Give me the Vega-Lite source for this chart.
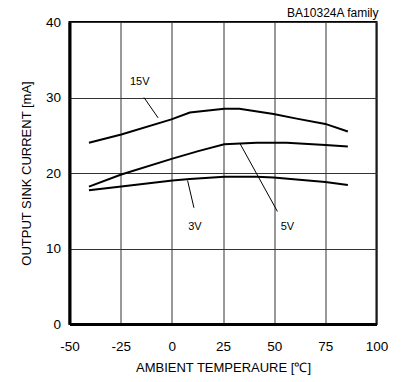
{
  "$schema": "https://vega.github.io/schema/vega-lite/v6.json",
  "width": 307,
  "height": 302,
  "autosize": "none",
  "padding": {"left": 69.5, "top": 22, "right": 25.5, "bottom": 58},
  "background": "white",
  "config": {
    "font": "Liberation Sans",
    "view": {"stroke": "black", "strokeWidth": 2}
  },
  "title": {
    "text": "BA10324A  family",
    "anchor": "end",
    "frame": "group",
    "fontSize": 12,
    "fontWeight": "normal",
    "font": "Liberation Sans",
    "color": "black",
    "offset": 5,
    "dy": 10,
    "dx": 2
  },
  "datasets": {
    "curves": [
      {"s": "15V", "t": -40.5, "i": 24.0},
      {"s": "15V", "t": -24.7, "i": 25.1},
      {"s": "15V", "t": -0.2, "i": 27.1},
      {"s": "15V", "t": 8.8, "i": 28.0},
      {"s": "15V", "t": 25.6, "i": 28.5},
      {"s": "15V", "t": 33, "i": 28.5},
      {"s": "15V", "t": 49.7, "i": 27.8},
      {"s": "15V", "t": 61, "i": 27.2},
      {"s": "15V", "t": 75, "i": 26.5},
      {"s": "15V", "t": 86, "i": 25.5},
      {"s": "5V", "t": -40.5, "i": 18.2},
      {"s": "5V", "t": -24.7, "i": 19.8},
      {"s": "5V", "t": 0.3, "i": 21.9},
      {"s": "5V", "t": 12.9, "i": 22.9},
      {"s": "5V", "t": 25.6, "i": 23.8},
      {"s": "5V", "t": 41.5, "i": 24.0},
      {"s": "5V", "t": 56.2, "i": 24.0},
      {"s": "5V", "t": 75, "i": 23.7},
      {"s": "5V", "t": 86, "i": 23.5},
      {"s": "3V", "t": -40.5, "i": 17.7},
      {"s": "3V", "t": -24.7, "i": 18.2},
      {"s": "3V", "t": 0.3, "i": 19.0},
      {"s": "3V", "t": 8.8, "i": 19.2},
      {"s": "3V", "t": 25.6, "i": 19.5},
      {"s": "3V", "t": 41.5, "i": 19.5},
      {"s": "3V", "t": 49.7, "i": 19.4},
      {"s": "3V", "t": 75, "i": 18.8},
      {"s": "3V", "t": 86, "i": 18.4}
    ],
    "leaders": [
      {"s": "15V", "t1": -13.6, "i1": 30.0, "t2": -6.7, "i2": 27.3, "lt": -15.7, "li": 32.0},
      {"s": "5V", "t1": 33.3, "i1": 23.9, "t2": 51.6, "i2": 14.9, "lt": 56.5, "li": 12.9},
      {"s": "3V", "t1": 7.7, "i1": 19.0, "t2": 10.8, "i2": 15.4, "lt": 11.3, "li": 12.9}
    ]
  },
  "layer": [
    {
      "data": {"name": "curves"},
      "mark": {"type": "line", "color": "black", "strokeWidth": 2},
      "encoding": {
        "x": {
          "field": "t", "type": "quantitative",
          "scale": {"domain": [-50, 100], "nice": false, "zero": false},
          "axis": {
            "values": [-50, -25, 0, 25, 50, 75, 100],
            "labelExpr": "'' + datum.value",
            "title": "AMBIENT TEMPERAURE [℃]",
            "titleFontSize": 13, "titleFontWeight": "normal", "titleColor": "black",
            "titlePadding": 9,
            "labelFontSize": 13.5, "labelColor": "black", "labelPadding": 15,
            "labelFlush": false,
            "ticks": false,
            "domainColor": "black", "domainWidth": 3,
            "gridColor": "#333", "gridWidth": 1, "gridOpacity": 1
          }
        },
        "y": {
          "field": "i", "type": "quantitative",
          "scale": {"domain": [0, 40], "nice": false},
          "axis": {
            "values": [0, 10, 20, 30, 40],
            "title": "OUTPUT SINK CURRENT [mA]",
            "titleFontSize": 13, "titleFontWeight": "normal", "titleColor": "black",
            "titlePadding": 12,
            "labelFontSize": 13.5, "labelColor": "black", "labelPadding": 9,
            "labelFlush": false,
            "ticks": false,
            "domainColor": "black", "domainWidth": 3,
            "gridColor": "#333", "gridWidth": 1, "gridOpacity": 1
          }
        },
        "detail": {"field": "s"}
      }
    },
    {
      "data": {"name": "leaders"},
      "mark": {"type": "rule", "color": "black", "strokeWidth": 1},
      "encoding": {
        "x": {"field": "t1", "type": "quantitative"},
        "y": {"field": "i1", "type": "quantitative"},
        "x2": {"field": "t2"},
        "y2": {"field": "i2"}
      }
    },
    {
      "data": {"name": "leaders"},
      "mark": {"type": "text", "fontSize": 11, "color": "black", "align": "center", "baseline": "middle"},
      "encoding": {
        "x": {"field": "lt", "type": "quantitative"},
        "y": {"field": "li", "type": "quantitative"},
        "text": {"field": "s"}
      }
    }
  ]
}
